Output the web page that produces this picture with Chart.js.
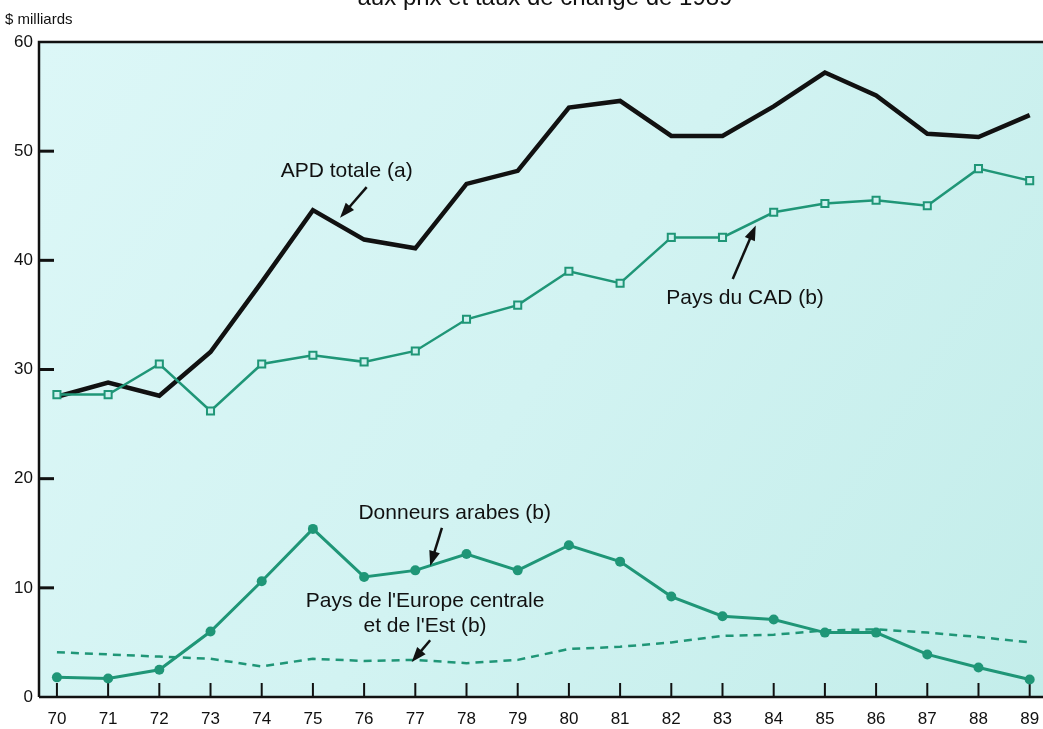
<!DOCTYPE html>
<html>
<head>
<meta charset="utf-8">
<script src="https://cdn.jsdelivr.net/npm/chart.js@4.4.1/dist/chart.umd.min.js"></script>
<style>
  html, body { margin: 0; padding: 0; background: #fff; overflow: hidden; }
  #wrap { position: relative; width: 1043px; height: 729px; overflow: hidden; }
  #title { position: absolute; top: -17px; left: 0; width: 1090px; text-align: center; line-height: 24px;
           font: 24px "Liberation Sans", Arial, sans-serif; color: #111; white-space: nowrap; }
  #unit { position: absolute; top: 10px; left: 5px; font: 15px "Liberation Sans", Arial, sans-serif; color: #111; }
  canvas { position: absolute; left: 0; top: 0; }
</style>
</head>
<body>
<div id="wrap">
  <canvas id="canvas" width="1043" height="729"></canvas>
  <div id="title">aux prix et taux de change de 1989</div>
  <div id="unit">$ milliards</div>
</div>
<script>
	// years and tick labels
	var years = [70, 71, 72, 73, 74, 75, 76, 77, 78, 79, 80, 81, 82, 83, 84, 85, 86, 87, 88, 89];
	var yearLabels = ['70', '71', '72', '73', '74', '75', '76', '77', '78', '79', '80', '81', '82', '83', '84', '85', '86', '87', '88', '89'];
	var yTicks = [0, 10, 20, 30, 40, 50, 60];

	// series, $ milliards
	var apdTotale = [27.5, 28.8, 27.6, 31.6, 38.0, 44.6, 41.9, 41.1, 47.0, 48.2, 54.0, 54.6, 51.4, 51.4, 54.1, 57.2, 55.1, 51.6, 51.3, 53.3];
	var paysCAD = [27.7, 27.7, 30.5, 26.2, 30.5, 31.3, 30.7, 31.7, 34.6, 35.9, 39.0, 37.9, 42.1, 42.1, 44.4, 45.2, 45.5, 45.0, 48.4, 47.3];
	var donneursArabes = [1.8, 1.7, 2.5, 6.0, 10.6, 15.4, 11.0, 11.6, 13.1, 11.6, 13.9, 12.4, 9.2, 7.4, 7.1, 5.9, 5.9, 3.9, 2.7, 1.6];
	var europeEst = [4.1, 3.9, 3.7, 3.5, 2.8, 3.5, 3.3, 3.4, 3.1, 3.4, 4.4, 4.6, 5.0, 5.6, 5.7, 6.1, 6.2, 5.9, 5.5, 5.0];

	var teal = '#1f9677';
	var font = '"Liberation Sans", Arial, sans-serif';

	// labels with arrows, in data units
	var notes = [
		{ lines: ['APD totale (a)'], x: 75.66, y: 48.2, from: [76.05, 46.7], to: [75.53, 43.9] },
		{ lines: ['Pays du CAD (b)'], x: 83.44, y: 36.5, from: [83.2, 38.3], to: [83.65, 43.2] },
		{ lines: ['Donneurs arabes (b)'], x: 77.77, y: 16.8, from: [77.52, 15.5], to: [77.29, 12.0] },
		{ lines: ["Pays de l'Europe centrale", "et de l'Est (b)"], x: 77.19, y: 8.8, from: [77.29, 5.2], to: [76.93, 3.2] }
	];

	function pts(vals) {
		return years.map(function (y, i) { return { x: y, y: vals[i] }; });
	}

	var decor = {
		id: 'decor',
		beforeDatasetsDraw: function (chart) {
			var c = chart.ctx, a = chart.chartArea;
			var g = c.createLinearGradient(a.left, a.top, a.right, a.bottom);
			g.addColorStop(0, '#dcf7f7');
			g.addColorStop(0.5, '#d2f3f2');
			g.addColorStop(1, '#c3edea');
			c.save();
			c.fillStyle = g;
			c.fillRect(a.left, a.top, a.right - a.left, a.bottom - a.top);
			c.strokeStyle = '#111';
			// frame: top, left, bottom
			c.lineWidth = 2.5;
			c.beginPath();
			c.moveTo(a.left, a.bottom);
			c.lineTo(a.left, a.top);
			c.lineTo(a.right, a.top);
			c.moveTo(a.left, a.bottom);
			c.lineTo(a.right, a.bottom);
			c.stroke();
			// inner ticks
			var xs = chart.scales.x, ys = chart.scales.y;
			c.lineWidth = 3;
			yTicks.forEach(function (v) {
				if (v === 0 || v === 60) return;
				var py = ys.getPixelForValue(v);
				c.beginPath(); c.moveTo(a.left, py); c.lineTo(a.left + 15, py); c.stroke();
			});
			c.lineWidth = 2;
			years.forEach(function (v) {
				var px = xs.getPixelForValue(v);
				c.beginPath(); c.moveTo(px, a.bottom); c.lineTo(px, a.bottom - 14); c.stroke();
			});
			c.restore();
		},
		afterDatasetsDraw: function (chart) {
			var c = chart.ctx, xs = chart.scales.x, ys = chart.scales.y;
			c.save();
			c.fillStyle = '#111';
			c.strokeStyle = '#111';
			c.font = '21px ' + font;
			c.textAlign = 'center';
			c.textBaseline = 'middle';
			notes.forEach(function (n) {
				var px = xs.getPixelForValue(n.x), py = ys.getPixelForValue(n.y);
				n.lines.forEach(function (t, i) { c.fillText(t, px, py + i * 25); });
				var x1 = xs.getPixelForValue(n.from[0]), y1 = ys.getPixelForValue(n.from[1]);
				var x2 = xs.getPixelForValue(n.to[0]), y2 = ys.getPixelForValue(n.to[1]);
				var ang = Math.atan2(y2 - y1, x2 - x1);
				c.lineWidth = 2.5;
				c.beginPath(); c.moveTo(x1, y1);
				c.lineTo(x2 - 10 * Math.cos(ang), y2 - 10 * Math.sin(ang)); c.stroke();
				c.beginPath();
				c.moveTo(x2, y2);
				c.lineTo(x2 - 15 * Math.cos(ang) + 5.5 * Math.sin(ang), y2 - 15 * Math.sin(ang) - 5.5 * Math.cos(ang));
				c.lineTo(x2 - 15 * Math.cos(ang) - 5.5 * Math.sin(ang), y2 - 15 * Math.sin(ang) + 5.5 * Math.cos(ang));
				c.closePath(); c.fill();
			});
			c.restore();
		}
	};

	window.onload = function () {
		var ctx = document.getElementById('canvas').getContext('2d');
		window.myChart = new Chart(ctx, {
			type: 'line',
			data: {
				datasets: [{
					label: "Pays de l'Europe centrale et de l'Est (b)",
					data: pts(europeEst),
					borderColor: teal,
					borderWidth: 2.5,
					borderDash: [8, 6],
					pointRadius: 0,
					tension: 0
				}, {
					label: 'Donneurs arabes (b)',
					data: pts(donneursArabes),
					borderColor: teal,
					backgroundColor: teal,
					borderWidth: 3,
					pointRadius: 5,
					pointBackgroundColor: teal,
					pointBorderWidth: 0,
					tension: 0
				}, {
					label: 'Pays du CAD (b)',
					data: pts(paysCAD),
					borderColor: teal,
					borderWidth: 2.5,
					pointStyle: 'rect',
					pointRadius: 5,
					pointBorderWidth: 2,
					pointBorderColor: teal,
					pointBackgroundColor: '#cdf1ef',
					tension: 0
				}, {
					label: 'APD totale (a)',
					data: pts(apdTotale),
					borderColor: '#111',
					borderWidth: 4.5,
					borderJoinStyle: 'miter',
					pointRadius: 0,
					tension: 0
				}]
			},
			options: {
				responsive: false,
				animation: false,
				events: [],
				layout: { autoPadding: false, padding: { top: 42, right: 0, bottom: 0, left: 0 } },
				plugins: {
					legend: { display: false },
					title: { display: false },
					tooltip: { enabled: false }
				},
				scales: {
					x: {
						type: 'linear',
						min: 69.65,
						max: 89.26,
						afterBuildTicks: function (s) { s.ticks = years.map(function (v) { return { value: v }; }); },
						afterFit: function (s) { s.height = 32; s.paddingLeft = 0; s.paddingRight = 0; },
						grid: { display: false, drawTicks: false },
						border: { display: false },
						ticks: {
							padding: 12,
							color: '#111',
							font: { family: font, size: 17 },
							autoSkip: false,
							maxRotation: 0,
							callback: function (v) { return yearLabels[years.indexOf(v)]; }
						}
					},
					y: {
						min: 0,
						max: 60,
						afterBuildTicks: function (s) { s.ticks = yTicks.map(function (v) { return { value: v }; }); },
						afterFit: function (s) { s.width = 39; },
						grid: { display: false, drawTicks: false },
						border: { display: false },
						ticks: {
							padding: 6,
							color: '#111',
							font: { family: font, size: 17 }
						}
					}
				}
			},
			plugins: [decor]
		});
	};
</script>
</body>
</html>
